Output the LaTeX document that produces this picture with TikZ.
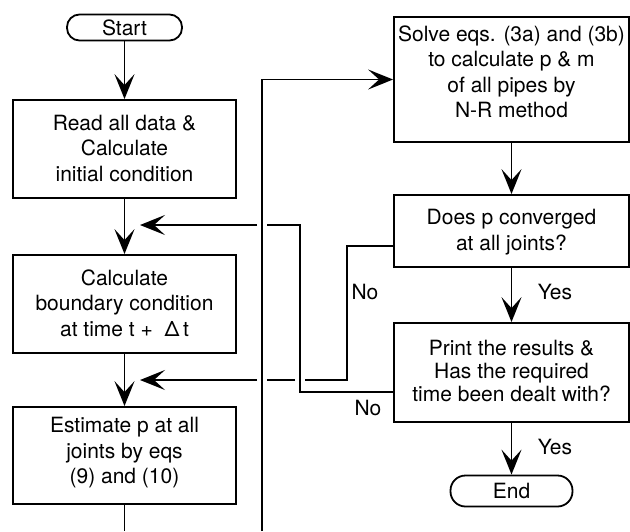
\documentclass[tikz,border=0pt]{standalone}
\usepackage{fontspec}
\setmainfont{TeX Gyre Heros}
\usetikzlibrary{arrows.meta}
\begin{document}
\begin{tikzpicture}[x=1pt,y=-1pt,
  box/.style={draw, line width=1.8pt, inner sep=0pt},
  term/.style={draw, line width=1.8pt, rounded corners=12.5pt, inner sep=0pt, font=\fontsize{21}{25}\selectfont},
  txt/.style={align=center, inner sep=0pt, font=\fontsize{21}{25.5}\selectfont},
  lab/.style={inner sep=0pt, font=\fontsize{21}{25}\selectfont},
  conn/.style={line width=1.8pt},
  arr/.style={conn, -{Stealth[length=25pt,width=20pt,inset=11pt]}}]
\useasboundingbox (0,0) rectangle (630,531);

% left column
\node[term, minimum width=115pt, minimum height=26pt] (start) at (124.5,27.5) {Start};
\node[box, minimum width=223pt, minimum height=98pt] (read) at (124.5,149) {};
\node[txt] (readt) at (124.5,148) {Read all data \&\\Calculate\\initial condition};
\node[box, minimum width=223pt, minimum height=98pt] (calc) at (124.5,304) {};
\node[txt] (calct) at (124.5,303) {Calculate\\boundary condition\\at time t + ~Δ\,t};
\node[box, minimum width=223pt, minimum height=97pt] (est) at (124.5,455.5) {};
\node[txt] (estt) at (124.5,453) {Estimate p at all\\joints by eqs\\(9) and (10)};

% right column
\node[box, minimum width=235pt, minimum height=125pt] (solve) at (511.5,79.5) {};
\node[txt] (solvet) at (511.5,72) {Solve eqs. (3a) and (3b)\\to calculate p \& m\\of all pipes by\\N-R method};
\node[box, minimum width=235pt, minimum height=72pt] (does) at (511.5,231) {};
\node[txt] (doest) at (511.5,232) {Does p converged\\at all joints?};
\node[box, minimum width=235pt, minimum height=99pt] (print) at (511.5,372.5) {};
\node[txt, font=\fontsize{21}{23}\selectfont] (printt) at (511.5,371) {Print the results \&\\Has the required\\time been dealt with?};
\node[term, rounded corners=15pt, minimum width=122pt, minimum height=31pt] (end) at (511.5,491) {End};

% labels
\node[lab] (no1) at (365,292) {No};
\node[lab] (no2) at (368,408) {No};
\node[lab] (yes1) at (555,292) {Yes};
\node[lab] (yes2) at (555,447) {Yes};

% coordinates
\coordinate (estend) at (124.5,531);
\coordinate (loopbot) at (262,531);
\coordinate (looptop) at (262,79.5);
\coordinate (pn1) at (300,392);
\coordinate (pn2) at (300,225);
\coordinate (dn1) at (347,246);
\coordinate (dn2) at (347,380);
\coordinate (fb1) at (140,225);
\coordinate (fb2) at (140,380);
\coordinate (g1a) at (267,225);
\coordinate (g1b) at (257,225);
\coordinate (g2a) at (305,380);
\coordinate (g2b) at (295,380);
\coordinate (g2c) at (267,380);
\coordinate (g2d) at (257,380);

% main flow
\draw[arr] (start) -- (read);
\draw[arr] (read) -- (calc);
\draw[arr] (calc) -- (est);
\draw[conn] (est) -- (estend);
\draw[arr] (loopbot) -- (looptop) -- (solve);
\draw[arr] (solve) -- (does);
\draw[arr] (does) -- (print);
\draw[arr] (print) -- (end);

% No branches
\draw[conn] (print.west |- pn1) -- (pn1) -- (pn2) -- (g1a);
\draw[arr] (g1b) -- (fb1);
\draw[conn] (does.west |- dn1) -- (dn1) -- (dn2) -- (g2a);
\draw[conn] (g2b) -- (g2c);
\draw[arr] (g2d) -- (fb2);
\end{tikzpicture}
\end{document}
